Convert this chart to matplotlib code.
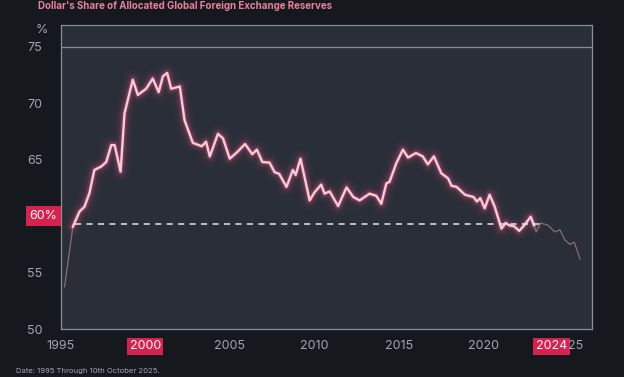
import numpy as np
import matplotlib
matplotlib.use("Agg")
import matplotlib.pyplot as plt

plt.rcParams["font.family"] = ["Inter", "DejaVu Sans"]

# ---- data (year, USD share %) ----------------------------------------
lead_years = [1995.24, 1995.73]
lead_share = [53.75, 59.07]

main_years = [
    1995.73, 1996.12, 1996.42, 1996.71, 1997.0, 1997.4, 1997.7, 1998.0,
    1998.2, 1998.55, 1998.78, 1999.27, 1999.57, 2000.06, 2000.45, 2000.8,
    2001.05, 2001.3, 2001.54, 2002.05, 2002.33, 2002.82, 2003.35, 2003.6,
    2003.82, 2004.3, 2004.6, 2005.0, 2005.45, 2005.9, 2006.33, 2006.6,
    2006.93, 2007.35, 2007.65, 2007.92, 2008.35, 2008.73, 2008.89, 2009.18,
    2009.72, 2010.0, 2010.4, 2010.6, 2010.9, 2011.4, 2011.9, 2012.3,
    2012.67, 2013.26, 2013.66, 2013.95, 2014.25, 2014.44, 2014.84, 2015.23,
    2015.53, 2016.0, 2016.4, 2016.7, 2017.06, 2017.5, 2017.9, 2018.1,
    2018.4, 2018.9, 2019.4, 2019.6, 2019.8, 2020.06, 2020.35, 2020.65,
    2021.05, 2021.3, 2021.5, 2021.8, 2022.1, 2022.4, 2022.78, 2022.97,
]
main_share = [
    59.07, 60.4, 60.85, 62.05, 64.1, 64.4, 64.8, 66.3,
    66.3, 63.95, 69.1, 72.1, 70.75, 71.3, 72.2, 71.0,
    72.4, 72.7, 71.3, 71.5, 68.5, 66.5, 66.2, 66.6,
    65.3, 67.3, 66.9, 65.1, 65.7, 66.4, 65.5, 65.9,
    64.8, 64.75, 63.9, 63.75, 62.6, 64.1, 63.65, 65.1,
    61.4, 62.1, 62.8, 62.0, 62.2, 60.9, 62.55, 61.7,
    61.4, 62.0, 61.8, 61.1, 62.9, 63.05, 64.7, 65.9,
    65.2, 65.6, 65.3, 64.6, 65.3, 63.8, 63.35, 62.7,
    62.6, 61.9, 61.7, 61.3, 61.6, 60.7, 61.9, 60.85,
    58.9, 59.4, 59.2, 59.1, 58.7, 59.2, 59.95, 59.2,
]

tail_years = [2022.97, 2023.1, 2023.37, 2023.8, 2024.2, 2024.5, 2024.8,
              2025.1, 2025.35, 2025.7]
tail_share = [59.2, 58.6, 59.4, 59.2, 58.6, 58.8, 57.9, 57.5, 57.7, 56.2]

ref_level = 59.3
ref_span = (1995.87, 2023.4)

x_ticks = [1995, 2000, 2005, 2010, 2015, 2020, 2024, 2025]
x_labels = ["1995", "2000", "2005", "2010", "2015", "2020", "2024", "25"]
y_ticks = [50, 55, 60, 65, 70, 75]
hl_years = ["2000", "2024"]

# ---- style ------------------------------------------------------------
FIG_BG = "#15181d"
AX_BG = "#2a2e38"
GRID = "#8a8e96"
TXT = "#a3a6ad"
PINK = "#e9809f"
RED = "#d7214f"
CORE = "#fbcad7"
GLOW = "#ff5f8f"
FAINT = "#837079"

fig = plt.figure(figsize=(6.24, 3.77), dpi=100, facecolor=FIG_BG)
ax = fig.add_axes([60.5 / 624, 1 - 329 / 377, (592 - 60.5) / 624, (329 - 25) / 377])
ax.set_facecolor(AX_BG)

ax.set_xlim(1995, 2026.4)
ax.set_ylim(50, 76.95)

# glow around the main line
for lw, a in [(14, 0.025), (10, 0.04), (7, 0.07), (5, 0.11), (3.2, 0.2)]:
    ax.plot(main_years, main_share, color=GLOW, lw=lw, alpha=a,
            solid_capstyle="round", solid_joinstyle="round", zorder=3)
ax.plot(main_years, main_share, color=CORE, lw=1.7,
        solid_joinstyle="round", zorder=4)

ax.plot(lead_years, lead_share, color=FAINT, lw=0.9, zorder=3)
ax.plot(tail_years, tail_share, color=FAINT, lw=0.9, zorder=3)

ax.hlines(ref_level, ref_span[0], ref_span[1], colors="#e4e6ea",
          linestyles=(0, (4, 3.5)), lw=1.1, zorder=5)
ax.axhline(75, color=GRID, lw=0.9, zorder=2)

for s in ax.spines.values():
    s.set_color(GRID)
    s.set_linewidth(0.9)

ax.set_xticks(x_ticks)
ax.set_xticklabels(x_labels)
ax.set_yticks(y_ticks)
ax.set_yticklabels([("" if t == 60 else str(t)) for t in y_ticks])
ax.tick_params(axis="both", length=0, colors=TXT, labelsize=9)
ax.tick_params(axis="x", pad=8)
ax.tick_params(axis="y", pad=13)

for lab in ax.get_xticklabels():
    if lab.get_text() in hl_years:
        lab.set_color("white")
        lab.set_bbox(dict(boxstyle="square,pad=0.2", fc=RED, ec="none"))
        lab.set_zorder(10)
    elif lab.get_text() == "25":
        lab.set_horizontalalignment("left")

ax.annotate("60%", xy=(0, 60), xycoords=ax.get_yaxis_transform(),
            xytext=(-2.2, 0), textcoords="offset points",
            ha="right", va="center", fontsize=9, color="white",
            bbox=dict(boxstyle="square,pad=0.3", fc=RED, ec="none"),
            annotation_clip=False)

fig.text(42 / 624, 1 - 30 / 377, "%", ha="center", va="center",
         fontsize=9, color=TXT)
fig.text(38 / 624, 1 - 6 / 377, "Dollar's Share of Allocated Global Foreign Exchange Reserves",
         ha="left", va="center", fontsize=7, fontweight="bold", color=PINK)
fig.text(16 / 624, 1 - 371 / 377, "Date: 1995 Through 10th October 2025.",
         ha="left", va="center", fontsize=5.5, color=TXT)

fig.savefig("out.png", dpi=100, facecolor=FIG_BG)
